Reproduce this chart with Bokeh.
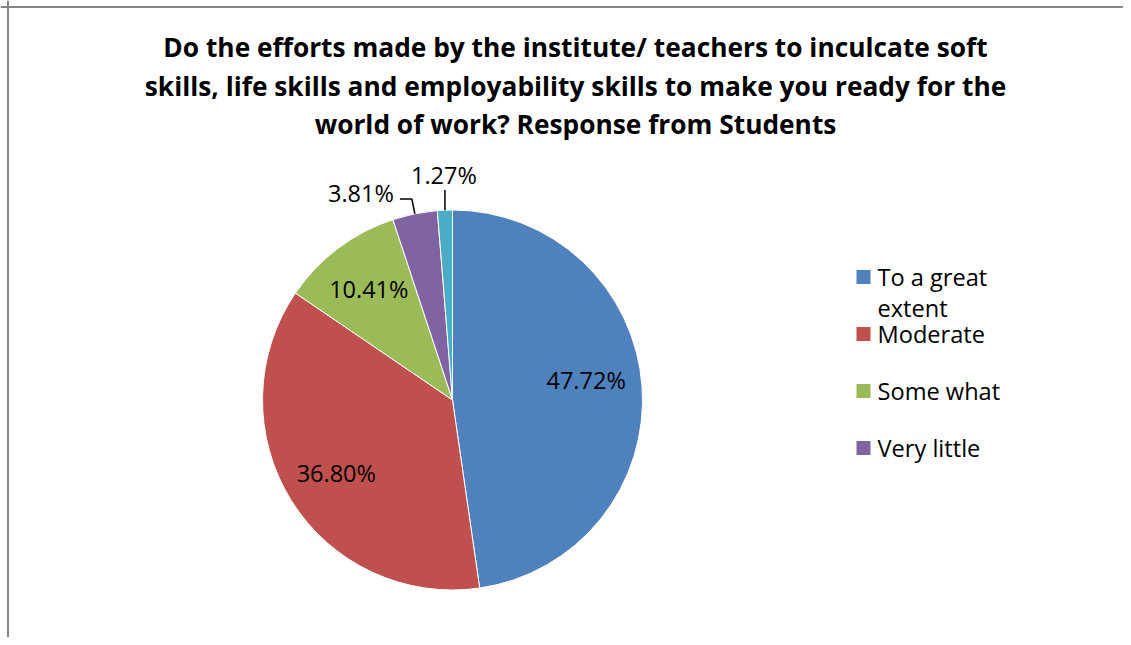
import numpy as np
from bokeh.plotting import figure
from bokeh.models import Range1d, Span
from bokeh.embed import file_html
from bokeh.resources import INLINE
from bokeh.core.properties import value

# ---------------- data ----------------
categories = ["To a great extent", "Moderate", "Some what", "Very little", "Not at all"]
percentages = [47.72, 36.80, 10.41, 3.81, 1.27]
legend_labels = ["To a great\nextent", "Moderate", "Some what", "Very little"]
colors = ["#4F81BD", "#C0504D", "#9BBB59", "#8064A2", "#4BACC6"]
title_lines = [
    "Do the efforts made by the institute/ teachers to inculcate soft",
    "skills, life skills and employability skills to make you ready for the",
    "world of work? Response from Students",
]

# ---------------- layout ----------------
W, H = 1123, 637
FONT = "Open Sans"
cx, cy, R = 452, H - 399.5, 190

p = figure(width=W, height=H, x_range=Range1d(0, W), y_range=Range1d(0, H),
           output_backend="svg", toolbar_location=None, min_border=0,
           x_axis_location=None, y_axis_location=None)
p.grid.visible = False
p.outline_line_color = None
p.background_fill_color = "white"
p.border_fill_color = "white"

# chart frame (only top/left visible in reference)
p.add_layout(Span(location=7.5, dimension="height", line_color="#868686", line_width=2))
p.add_layout(Span(location=H - 6.5, dimension="width", line_color="#868686", line_width=2))

# ---------------- pie ----------------
vals = np.array(percentages, dtype=float)
frac = vals / vals.sum()
cum_end = np.cumsum(frac)
cum_start = cum_end - frac
start = np.pi / 2 - 2 * np.pi * cum_end
end = np.pi / 2 - 2 * np.pi * cum_start
mid = (start + end) / 2

p.wedge(x=cx, y=cy, radius=R, start_angle=start, end_angle=end,
        fill_color=colors, line_color="white", line_width=1, direction="anticlock")

labels = [f"{v:.2f}%" for v in percentages]
LBL = "23.5px"

# inside labels for first three slices
in_r = [134, 137, 139]
in_dy = [10, 0, 0]
for i in range(3):
    lx = cx + in_r[i] * np.cos(mid[i])
    ly = cy + in_r[i] * np.sin(mid[i]) + in_dy[i]
    p.text(x=[lx], y=[ly], text=[labels[i]], text_font=value(FONT),
           text_font_size=LBL, text_color="black",
           text_align="center", text_baseline="middle")

# outside label: 3.81% with elbow leader
i = 3
x0, y0 = cx + R * np.cos(mid[i]), cy + R * np.sin(mid[i])
x1, y1 = cx + (R + 15) * np.cos(mid[i]), cy + (R + 15) * np.sin(mid[i])
x2, y2 = x1 - 12, y1
p.line(x=[x0, x1, x2], y=[y0, y1, y2], line_color="black", line_width=1.5)
p.text(x=[x2 - 6], y=[y2 + 6], text=[labels[i]], text_font=value(FONT),
       text_font_size=LBL, text_color="black",
       text_align="right", text_baseline="middle")

# outside label: 1.27% with straight leader
i = 4
x0, y0 = cx + R * np.cos(mid[i]), cy + R * np.sin(mid[i])
x1 = x0
y1 = cy + R + 20
p.line(x=[x0, x1], y=[y0, y1], line_color="black", line_width=1.5)
p.text(x=[x1 - 1], y=[y1 + 15], text=[labels[i]], text_font=value(FONT),
       text_font_size=LBL, text_color="black",
       text_align="center", text_baseline="middle")

# ---------------- title ----------------
title_y = [H - 46.5, H - 85, H - 123.5]
p.text(x=[575] * 3, y=title_y, text=title_lines, text_font=value(FONT),
       text_font_style="bold", text_font_size="26.3px", text_color="black",
       text_align="center", text_baseline="middle")

# ---------------- legend ----------------
leg_x, leg_y0, leg_step, line_h = 863, H - 276.5, 57, 31
for k, lab in enumerate(legend_labels):
    yy = leg_y0 - k * leg_step
    p.scatter(x=[leg_x], y=[yy], marker="square", size=14,
              fill_color=colors[k], line_color=None)
    for j, part in enumerate(lab.split("\n")):
        p.text(x=[leg_x + 14], y=[yy - j * line_h], text=[part],
               text_font=value(FONT), text_font_size="23.6px", text_color="black",
               text_align="left", text_baseline="middle")

open("out.html", "w").write(file_html(p, INLINE))
